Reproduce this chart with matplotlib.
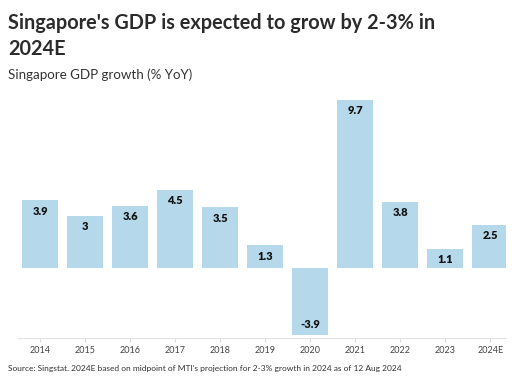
import matplotlib.pyplot as plt

years = ['2014', '2015', '2016', '2017', '2018', '2019', '2020', '2021', '2022', '2023', '2024E']
growth = [3.9, 3.0, 3.6, 4.5, 3.5, 1.3, -3.9, 9.7, 3.8, 1.1, 2.5]
labels = ['3.9', '3', '3.6', '4.5', '3.5', '1.3', '-3.9', '9.7', '3.8', '1.1', '2.5']

plt.rcParams['font.family'] = ['Lato', 'DejaVu Sans']

fig = plt.figure(figsize=(5.31, 3.83), dpi=100)
ax = fig.add_axes([0.033, 0.1175, 0.92, 0.635])

x = range(len(years))
bars = ax.bar(x, growth, width=0.8, color='#b5d8ea')

for xi, v, lab in zip(x, growth, labels):
    if v >= 0:
        ax.text(xi, v - 0.3, lab, ha='center', va='top', fontsize=8, fontweight='heavy', color='#111111')
    else:
        ax.text(xi, v + 0.3, lab, ha='center', va='bottom', fontsize=8, fontweight='heavy', color='#111111')

ax.set_xlim(-0.5, 10.35)
ax.set_ylim(-4.05, 10.0)
ax.set_xticks(list(x))
ax.set_xticklabels(years, fontsize=6.5, color='#444444')
ax.set_yticks([])
ax.tick_params(axis='x', length=3, color='#dddddd', pad=2.5)
for s in ['top', 'right', 'left']:
    ax.spines[s].set_visible(False)
ax.spines['bottom'].set_color('#e4e4e4')
ax.spines['bottom'].set_linewidth(0.8)

fig.text(0.015, 1 - 29 / 383, "Singapore's GDP is expected to grow by 2-3% in",
         fontsize=14.3, fontweight='bold', color='#2b2b2b', va='baseline')
fig.text(0.015, 1 - 55 / 383, "2024E",
         fontsize=14.3, fontweight='bold', color='#2b2b2b', va='baseline')
fig.text(0.015, 1 - 79 / 383, "Singapore GDP growth (% YoY)", fontsize=9.6, color='#333333', va='baseline')
fig.text(0.015, 1 - 371 / 383, "Source: Singstat. 2024E based on midpoint of MTI's projection for 2-3% growth in 2024 as of 12 Aug 2024",
         fontsize=6.05, color='#333333', va='baseline')

fig.savefig('out.png', dpi=100)
